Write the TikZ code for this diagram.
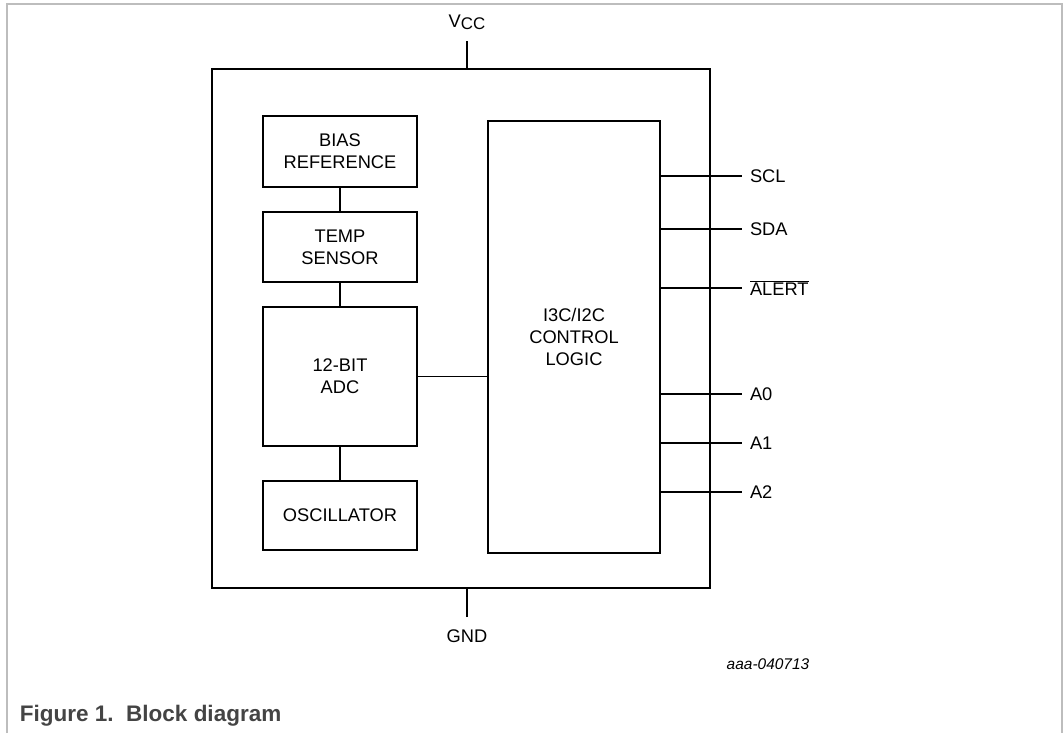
\documentclass[tikz,border=0pt]{standalone}
\usepackage{fontspec}
\setmainfont{Liberation Sans}
\usepackage{xcolor}
\usetikzlibrary{positioning}

\definecolor{framegray}{HTML}{BDBDBD}
\definecolor{captiongray}{HTML}{444444}

\begin{document}
\begin{tikzpicture}[
            x=0.025cm, y=-0.025cm,
            font=\fontsize{13}{15.5}\selectfont,
            block/.style={rectangle, draw, line width=1.6pt, align=center, minimum width=3.85cm},
            pin/.style={line width=0.8pt},
            pinlabel/.style={anchor=west, inner xsep=5.5pt},
        ]
            \useasboundingbox (0,0) rectangle (1064,733);
            \draw[framegray, line width=1.6pt] (7,733) -- (7,4) -- (1062,4) -- (1062,733);

            \node[block, line width=2pt, minimum width=12.45cm, minimum height=12.975cm] (chip) at (461,328.5) {};
            \node[block, minimum height=1.775cm] (bias) at (340,151.5) {BIAS\\REFERENCE};
            \node[block, minimum height=1.75cm] (temp) at (340,247) {TEMP\\SENSOR};
            \node[block, minimum height=3.475cm] (adc) at (340,376.5) {12-BIT\\ADC};
            \node[block, minimum height=1.725cm] (osc) at (340,515.5) {OSCILLATOR};
            \node[block, minimum width=4.3cm, minimum height=10.8cm] (ctrl) at (574,337) {I3C/I2C\\CONTROL\\LOGIC};

            \draw[pin] (bias) -- (temp);
            \draw[pin] (temp) -- (adc);
            \draw[pin] (adc) -- (osc);
            \draw[pin] (adc) -- (adc -| ctrl.west);

            \coordinate (vccpin) at (467,41);
            \coordinate (gndpin) at (467,617);
            \draw[pin] (vccpin) -- (vccpin |- chip.north);
            \draw[pin] (gndpin) -- (gndpin |- chip.south);
            \node[anchor=base] (vcc) at (467,27) {V\raisebox{-0.3ex}{\fontsize{12}{12}\selectfont CC}};
            \node (gnd) at (467,636) {GND};

            \foreach \y/\name/\txt in {176/scl/SCL, 229/sda/SDA, 288/alert/$\overline{\mbox{ALERT}}$,
                                       394/azero/A0, 443/aone/A1, 492/atwo/A2} {
                \coordinate (\name) at (742,\y);
                \draw[pin] (\name -| ctrl.east) -- (\name);
                \node[pinlabel] (\name label) at (\name) {\txt};
            }

            \node[font=\fontsize{11}{13}\selectfont\itshape] (docid) at (768,664) {aaa-040713};
            \node[anchor=west, text=captiongray, font=\fontsize{16}{18}\selectfont\bfseries] (caption) at (15,716)
                {Figure 1.\ \ Block diagram};
        \end{tikzpicture}
\end{document}
